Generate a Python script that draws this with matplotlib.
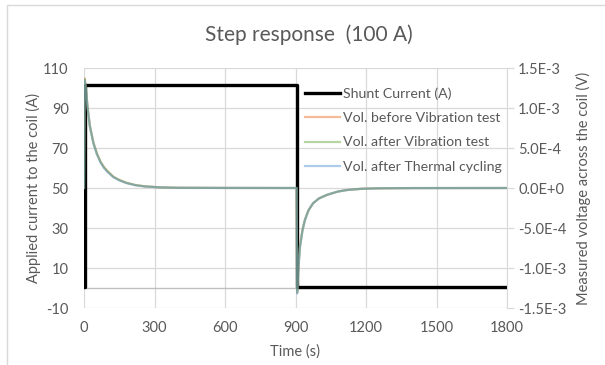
import numpy as np
import matplotlib
matplotlib.use("Agg")
import matplotlib.pyplot as plt
from matplotlib.patches import Rectangle

plt.rcParams["font.family"] = ["Lato", "DejaVu Sans"]
plt.rcParams["axes.unicode_minus"] = False

# shunt current (A)
t_current = [0, 5, 5, 907, 907, 1800]
current = [0.5, 0.5, 101.5, 101.5, 0.6, 0.6]

# coil voltage (V), three test conditions on a shared time base
t_volt = [0, 3, 8, 15, 25, 40, 55, 70, 85, 100, 125, 150, 180, 220, 260, 320,
          400, 600, 905, 907, 912, 919, 930, 940, 955, 975, 1000, 1035, 1080,
          1120, 1180, 1250, 1400, 1800]
v_before = [0, 1.37e-3, 1.25e-3, 1.02e-3, 7.8e-4, 5.7e-4, 4.3e-4, 3.3e-4, 2.6e-4,
            2.1e-4, 1.4e-4, 1.0e-4, 6.6e-5, 3.6e-5, 2.1e-5, 9e-6, 3e-6, 1e-6, 0,
            -1.31e-3, -1.0e-3, -7.3e-4, -5.2e-4, -4.0e-4, -2.8e-4, -1.9e-4,
            -1.3e-4, -8.5e-5, -4.5e-5, -2.5e-5, -1.0e-5, -4e-6, -1e-6, 0]
v_after_vib = [0, 1.36e-3, 1.24e-3, 1.01e-3, 7.7e-4, 5.6e-4, 4.3e-4, 3.3e-4, 2.6e-4,
               2.1e-4, 1.4e-4, 1.0e-4, 6.4e-5, 3.5e-5, 2.0e-5, 8e-6, 3e-6, 1e-6, 0,
               -1.30e-3, -1.0e-3, -7.3e-4, -5.2e-4, -4.0e-4, -2.8e-4, -1.9e-4,
               -1.3e-4, -8.4e-5, -4.4e-5, -2.4e-5, -1.0e-5, -4e-6, -1e-6, 0]
v_after_thermal = [0, 1.35e-3, 1.24e-3, 1.01e-3, 7.7e-4, 5.6e-4, 4.2e-4, 3.2e-4, 2.5e-4,
                   2.0e-4, 1.35e-4, 9.5e-5, 6.2e-5, 3.4e-5, 1.9e-5, 8e-6, 3e-6, 1e-6, 0,
                   -1.32e-3, -1.01e-3, -7.4e-4, -5.3e-4, -4.0e-4, -2.8e-4, -1.9e-4,
                   -1.3e-4, -8.5e-5, -4.5e-5, -2.5e-5, -1.0e-5, -4e-6, -1e-6, 0]

left_ticks = [-10, 10, 30, 50, 70, 90, 110]
right_ticks = [-1.5e-3, -1.0e-3, -5.0e-4, 0.0, 5.0e-4, 1.0e-3, 1.5e-3]
right_labels = ["-1.5E-3", "-1.0E-3", "-5.0E-4", "0.0E+0", "5.0E-4", "1.0E-3", "1.5E-3"]
x_ticks = [0, 300, 600, 900, 1200, 1500, 1800]

txt = "#595959"
grid = "#d9d9d9"

fig = plt.figure(figsize=(6.05, 3.65), dpi=100)
fig.patches.append(Rectangle((7 / 605, -0.1), 1.2, 1 - 5 / 365 + 0.1,
                             transform=fig.transFigure, fill=False,
                             edgecolor=grid, linewidth=1, clip_on=False))

ax = fig.add_axes([84 / 605, 1 - 308 / 365, 423 / 605, 240 / 365])
ax2 = ax.twinx()

ax.set_xlim(0, 1800)
ax.set_ylim(-10, 110)
ax.set_xticks(x_ticks)
ax.set_yticks(left_ticks)
ax.grid(True, color=grid, linewidth=0.9)
ax.set_axisbelow(True)
ax.axhline(0, color="#bfbfbf", linewidth=1.0, zorder=1)
for s in ax.spines.values():
    s.set_visible(False)
ax.tick_params(axis="y", length=0, colors=txt, labelsize=10.5, pad=11)
ax.tick_params(axis="x", length=0, colors=txt, labelsize=10.5, pad=9)

l0, = ax.plot(t_current, current, color="black", linewidth=2.4, zorder=3,
              label="Shunt Current (A)")

ax2.set_ylim(-1.5e-3, 1.5e-3)
ax2.set_yticks(right_ticks)
ax2.set_yticklabels(right_labels)
for s in ax2.spines.values():
    s.set_visible(False)
ax2.spines["right"].set_visible(True)
ax2.spines["right"].set_color(grid)
ax2.tick_params(axis="y", length=5, width=0.9, colors=txt,
                labelsize=10.5, pad=3)
ax2.tick_params(axis="y", color=grid)

l1, = ax2.plot(t_volt, v_before, color="#ED7D31", alpha=0.5, linewidth=1.6,
               label="Vol. before Vibration test")
l2, = ax2.plot(t_volt, v_after_vib, color="#70AD47", alpha=0.5, linewidth=1.6,
               label="Vol. after Vibration test")
l3, = ax2.plot(t_volt, v_after_thermal, color="#5B9BD5", alpha=0.5, linewidth=1.6,
               label="Vol. after Thermal cycling")

leg = ax2.legend(handles=[l0, l1, l2, l3], loc="upper left",
                 bbox_to_anchor=(305 / 605, 1 - 87 / 365),
                 bbox_transform=fig.transFigure, frameon=False,
                 fontsize=10.2, handlelength=2.5, handletextpad=0.15,
                 labelspacing=0.88, borderaxespad=0, borderpad=0)
for t in leg.get_texts():
    t.set_color(txt)

fig.text(309 / 605, 1 - 35 / 365, "Step response  (100 A)", ha="center",
         va="center", fontsize=15, color=txt)
fig.text(33 / 605, 1 - 188 / 365, "Applied current to the coil (A)",
         rotation=90, ha="center", va="center", fontsize=10.5, color=txt)
fig.text(583 / 605, 1 - 188 / 365, "Measured voltage across the coil (V)",
         rotation=90, ha="center", va="center", fontsize=10.5, color=txt)
fig.text(295 / 605, 1 - 352 / 365, "Time (s)", ha="center", va="center",
         fontsize=10.5, color=txt)

fig.savefig("out.png", dpi=100)
